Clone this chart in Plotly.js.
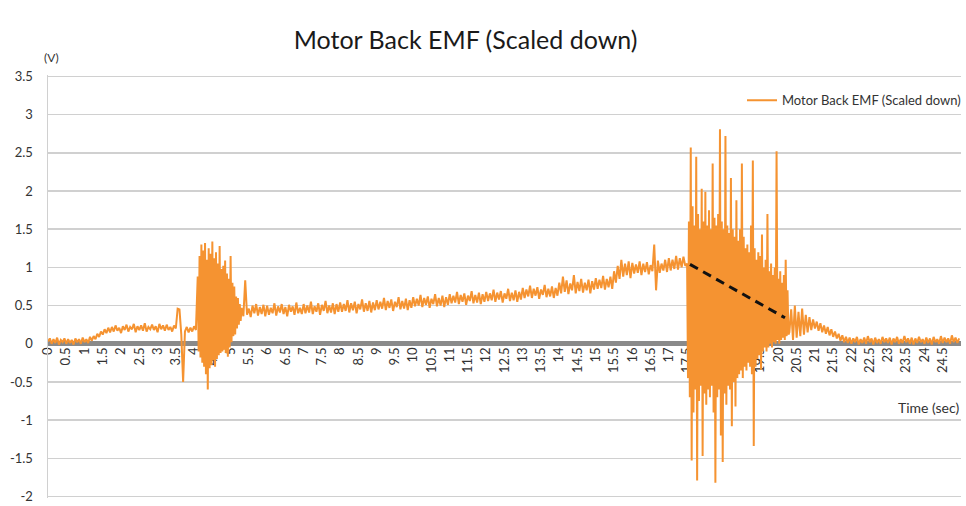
<!DOCTYPE html>
<html>
<head>
<meta charset="utf-8">
<script src="https://cdn.plot.ly/plotly-3.0.1.min.js"></script>
<style>html,body{margin:0;padding:0;background:#fff;}#chart{width:966px;height:506px;}</style>
</head>
<body>
<div id="chart"></div>
<script>
// ---- data ----
// idle phase, 0.05 s samples
const idleStart = 0.0, idleStep = 0.05;
const idleEmf = [
  0.03,0.07,0.00,0.06,0.01,0.08,-0.01,0.05,0.02,0.07,0.00,0.06,0.01,0.05,-0.01,0.07,0.02,0.06,0.00,0.08,0.02,0.06,0.01,0.09,
  0.04,0.10,0.06,0.13,0.09,0.16,0.12,0.19,0.14,0.21,
  0.15,0.22,0.16,0.24,0.17,0.21,0.14,0.23,0.18,0.25,0.16,0.22,0.19,0.26,0.15,0.23,0.18,0.24,0.17,0.27,0.16,0.22,0.19,0.25,0.18,0.23,0.15,0.26,0.19,0.24,0.17,0.25,0.18,0.22,0.16,0.24,
  0.20,0.46,0.45,0.12,-0.50,0.16,0.22,0.15,0.21,0.16,0.23,0.18
];

// start-up burst, 0.025 s samples
const startupStart = 4.10, startupStep = 0.025;
const startupEmf = [
  0.88,-0.10,1.15,-0.18,1.30,-0.25,1.22,-0.30,1.32,-0.40,1.10,-0.60,1.25,-0.32,1.18,-0.28,
  1.34,-0.22,1.12,-0.30,1.20,-0.20,1.05,-0.15,1.28,-0.12,0.98,-0.10,1.02,-0.08,1.09,-0.12,
  0.92,-0.17,0.85,-0.05,1.15,0.02,0.80,0.10,0.75,0.12,0.62,0.20,0.60,0.25,0.52,0.30
];

// accelerating ramp, 0.05 s samples
const rampStart = 5.30, rampStep = 0.05;
const rampEmf = [
  0.47,0.36,0.83,0.38,0.46,0.35,0.50,0.40,0.52,0.37,0.48,0.39,0.51,0.36,
  0.50,0.38,0.47,0.40,0.53,0.37,0.49,0.41,0.52,0.39,0.48,0.36,0.51,0.42,0.49,0.38,0.54,0.40,0.47,0.39,
  0.52,0.40,0.50,0.41,0.55,0.39,0.49,0.42,0.53,0.38,0.51,0.43,0.56,0.40,0.50,0.41,0.53,0.39,0.52,0.42,
  0.54,0.42,0.52,0.43,0.57,0.41,0.53,0.44,0.55,0.40,0.52,0.45,0.58,0.42,0.53,0.43,0.56,0.41,0.54,0.44,
  0.57,0.45,0.55,0.46,0.60,0.44,0.56,0.47,0.58,0.43,0.55,0.48,0.61,0.45,0.56,0.46,0.59,0.44,0.57,0.47,
  0.61,0.49,0.59,0.50,0.64,0.48,0.60,0.51,0.62,0.47,0.59,0.52,0.65,0.49,0.60,0.50,0.63,0.48,0.61,0.51,
  0.65,0.53,0.63,0.54,0.68,0.52,0.64,0.55,0.66,0.51,0.63,0.56,0.69,0.53,0.64,0.54,0.67,0.52,0.65,0.55,
  0.68,0.56,0.66,0.57,0.71,0.55,0.67,0.58,0.69,0.54,0.66,0.59,0.72,0.56,0.67,0.57,0.70,0.55,0.68,0.58,
  0.73,0.60,0.71,0.62,0.76,0.60,0.72,0.63,0.74,0.59,0.71,0.64,0.77,0.61,0.72,0.62,0.75,0.60,0.73,0.63,
  0.80,0.66,0.88,0.68,0.83,0.65,0.79,0.70,0.90,0.66,0.81,0.69,0.85,0.67,0.80,0.70,0.84,0.66,0.82,0.71,
  0.86,0.72,0.84,0.73,0.89,0.71,0.85,0.74,0.88,0.72,0.95,0.80,1.02,0.85,1.10,0.88,1.05,0.90,1.08,0.86,
  1.06,0.92,1.04,0.93,1.08,0.90,1.05,0.94,1.07,0.91,1.03,0.95,1.30,0.70,1.09,0.93,1.05,0.96,1.10,0.94,
  1.12,0.96,1.10,0.98,1.15,0.97,1.12,1.00,1.14,1.02
];

// braking burst, 0.025 s samples
const brakeStart = 17.50, brakeStep = 0.025;
const brakeEmf = [
  1.05,-0.45, 1.60,-0.70, 2.57,-1.53, 1.80,-0.90, 1.55,-0.60, 2.45,-1.79, 1.70,-0.75, 1.50,-0.55,
  2.03,-1.47, 1.60,-0.65, 1.99,-0.80, 1.55,-0.60, 1.75,-0.70, 1.50,-0.55, 2.36,-0.90, 1.65,-1.82,
  1.55,-0.70, 1.70,-0.60, 2.81,-1.20, 1.60,-1.55, 1.50,-0.65, 2.72,-0.80, 1.55,-0.55, 1.45,-0.60,
  2.17,-1.08, 1.50,-0.50, 1.40,-0.82, 1.88,-0.45, 1.35,-0.40, 1.50,-0.35, 2.36,-0.45, 1.40,-0.30,
  1.25,-0.35, 1.30,-0.25, 1.20,-0.30, 1.55,-0.40, 2.40,-1.34, 1.25,-0.30, 1.10,-0.20, 1.20,-0.15,
  1.15,-0.34, 1.43,-0.10, 1.00,-0.05, 1.10,-0.10, 1.70,-0.05, 0.95,0.00, 1.05,-0.05, 0.90,0.02,
  1.00,0.00, 2.52,0.05, 0.85,0.00, 0.95,0.05, 0.80,0.08, 0.90,0.05, 1.10,0.10, 0.70,0.12
];

// run-down tail, 0.05 s samples
const tailStart = 20.30, tailStep = 0.05;
const tailEmf = [
  0.15,0.45,0.05,0.50,0.08,0.42,0.10,0.46,0.12,0.38,0.15,0.35,0.18,0.32,0.20,0.29,0.17,0.27,0.15,0.24,
  0.13,0.22,0.11,0.19,0.09,0.16,0.07,0.13,0.04,0.11,0.02,0.09,0.01,0.08,
  0.00,0.07,0.02,0.09,-0.01,0.06,0.01,0.08,0.00,0.10,0.02,0.07,-0.01,0.08,0.01,0.06,0.00,0.09,0.02,0.07,
  0.01,0.08,-0.01,0.07,0.02,0.09,0.00,0.06,0.01,0.10,0.02,0.07,0.00,0.08,-0.01,0.07,0.01,0.09,0.02,0.06,
  0.00,0.08,0.01,0.07,-0.01,0.09,0.02,0.06,0.00,0.10,0.01,0.08,0.02,0.07,0.00,0.11,0.02,0.08,0.01,0.07
];

// dashed decay guide (braking phase)
const guideTime = [17.58, 20.18];
const guideEmf = [1.04, 0.34];

// tick labels
const xTickVals = [];
for (let k = 0; k <= 49; k++) xTickVals.push(k * 0.5);
const xTickText = ["0","0.5","1","1.5","2","2.5","3","3.5","4","4.5","5","5.5","6","6.5","7","7.5","8","8.5","9","9.5",
  "10","10.5","11","11.5","12","12.5","13","13.5","14","14.5","15","15.5","16","16.5","17","17.5","18","18.5","19","19.5",
  "20","20.5","21","21.5","22","22.5","23","23.5","24","24.5"];
const yTickVals = [-2,-1.5,-1,-0.5,0,0.5,1,1.5,2,2.5,3,3.5];
const yTickText = ["-2","-1.5","-1","-0.5","0","0.5","1","1.5","2","2.5","3","3.5"];

// ---- assemble series ----
const segments = [
  [idleStart, idleStep, idleEmf],
  [startupStart, startupStep, startupEmf],
  [rampStart, rampStep, rampEmf],
  [brakeStart, brakeStep, brakeEmf],
  [tailStart, tailStep, tailEmf]
];
const timeS = [], emfV = [];
segments.forEach(([t0, dt, vals]) => {
  vals.forEach((v, i) => { timeS.push(Math.round((t0 + i * dt) * 10000) / 10000); emfV.push(v); });
});

const FONT = 'Lato, "Open Sans", sans-serif';
const ORANGE = '#F59331';
const Y_MIN = -2.02, Y_MAX = 3.52;

const traces = [
  {x: timeS, y: emfV, type: 'scatter', mode: 'lines', name: 'Motor Back EMF (Scaled down)',
   line: {color: ORANGE, width: 2}},
  {x: guideTime, y: guideEmf, type: 'scatter', mode: 'lines', showlegend: false,
   line: {color: '#111111', width: 3, dash: '9px,6px'}}
];

const layout = {
  width: 966, height: 506,
  margin: {l: 48, r: 5, t: 75, b: 8, autoexpand: false},
  paper_bgcolor: '#ffffff', plot_bgcolor: '#ffffff',
  font: {family: FONT, color: '#333333', size: 13},
  title: {text: 'Motor Back EMF (Scaled down)', x: 0.482, xanchor: 'center', y: 0.921, yanchor: 'middle', yref: 'container',
          font: {family: FONT, size: 25, color: '#1a1a1a'}},
  showlegend: true,
  legend: {xref: 'container', x: 1.0, xanchor: 'right', yref: 'container', y: 0.802, yanchor: 'middle',
           bgcolor: 'rgba(0,0,0,0)', font: {family: FONT, size: 13, color: '#333333'}},
  xaxis: {range: [0, 25], anchor: 'free', position: (0 - Y_MIN) / (Y_MAX - Y_MIN), layer: 'below traces',
          tickmode: 'array', tickvals: xTickVals, ticktext: xTickText, tickangle: -90,
          tickfont: {family: FONT, size: 13, color: '#333333'},
          showgrid: false, zeroline: false, showline: false, ticks: '', fixedrange: true},
  yaxis: {range: [Y_MIN, Y_MAX], tickmode: 'array', tickvals: yTickVals, ticktext: yTickText,
          tickfont: {family: FONT, size: 13, color: '#333333'}, ticklabeloverflow: 'allow',
          showgrid: true, gridcolor: '#d0d0d0', gridwidth: 1.5,
          zeroline: true, zerolinecolor: '#8a8a8a', zerolinewidth: 5,
          showline: true, linecolor: '#d0d0d0', linewidth: 1.5, ticks: '', ticklabelstandoff: 11, fixedrange: true},
  annotations: [
    {text: '(V)', xref: 'paper', yref: 'paper', x: -0.007, y: 1.041, xanchor: 'left', yanchor: 'middle', showarrow: false,
     font: {family: FONT, size: 12, color: '#333333'}},
    {text: 'Time (sec)', xref: 'paper', yref: 'y', x: 1.0, y: -0.84, xanchor: 'right', yanchor: 'middle', showarrow: false,
     font: {family: FONT, size: 14, color: '#333333'}}
  ]
};

Plotly.newPlot('chart', traces, layout, {displayModeBar: false, staticPlot: true});
</script>
</body>
</html>
